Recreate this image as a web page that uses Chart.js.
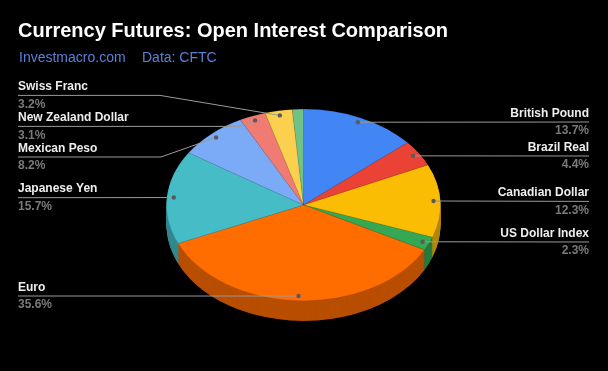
<!DOCTYPE html>
<html>
<head>
<meta charset="utf-8">
<script src="https://cdn.jsdelivr.net/npm/chart.js@4.4.1/dist/chart.umd.min.js"></script>
<style>
  html, body { margin: 0; padding: 0; background: #000; }
  #wrap { position: relative; width: 608px; height: 371px; }
  canvas { display: block; }
</style>
</head>
<body>
<div id="wrap"><canvas id="c" width="608" height="371"></canvas></div>
<script>
// ---- data ----
const categories = ["British Pound", "Brazil Real", "Canadian Dollar", "US Dollar Index", "Euro",
                    "Japanese Yen", "Mexican Peso", "New Zealand Dollar", "Swiss Franc", "Other"];
const shares = [13.7, 4.4, 12.3, 2.3, 35.6, 15.7, 8.2, 3.1, 3.2, 1.3];
const shareLabels = ["13.7%", "4.4%", "12.3%", "2.3%", "35.6%", "15.7%", "8.2%", "3.1%", "3.2%", ""];
const titleText = "Currency Futures: Open Interest Comparison";
const subtitleParts = ["Investmacro.com", "Data: CFTC"];

// ---- styles / layout ----
const sliceColors = ["#4285F4", "#EA4335", "#FBBC04", "#34A853", "#FF6D01",
                     "#46BDC6", "#7BAAF7", "#F07B72", "#FCD04F", "#71C287"];
const TILT = 0.70;     // vertical squash of the pie
const DEPTH = 20;      // thickness of the 3D pie
// label placement: side, y of name text centre, elbow x (null = straight)
const labelLayout = [
  {side: "R", y: 113.3, elbow: null},
  {side: "R", y: 147.3, elbow: null},
  {side: "R", y: 192.7, elbow: null},
  {side: "R", y: 233.3, elbow: null},
  {side: "L", y: 287.3, elbow: null},
  {side: "L", y: 189.0, elbow: null},
  {side: "L", y: 148.3, elbow: 161},
  {side: "L", y: 117.7, elbow: 240},
  {side: "L", y: 86.7,  elbow: 160},
  null
];

function shade(hex, f) {
  const n = parseInt(hex.slice(1), 16);
  const r = Math.round(((n >> 16) & 255) * f), g = Math.round(((n >> 8) & 255) * f), b = Math.round((n & 255) * f);
  return `rgb(${r},${g},${b})`;
}

function squash(ctx, arc) {
  ctx.translate(arc.x, arc.y);
  ctx.scale(1, TILT);
  ctx.translate(-arc.x, -arc.y);
}

const pie3d = {
  id: "pie3d",
  beforeDatasetsDraw(chart) {
    const ctx = chart.ctx;
    const arcs = chart.getDatasetMeta(0).data;
    if (!arcs.length) return;
    for (let d = DEPTH; d >= 1; d--) {
      ctx.save();
      ctx.translate(0, d);
      squash(ctx, arcs[0]);
      arcs.forEach((a, i) => {
        ctx.beginPath();
        ctx.moveTo(a.x, a.y);
        ctx.arc(a.x, a.y, a.outerRadius, a.startAngle, a.endAngle);
        ctx.closePath();
        ctx.fillStyle = shade(sliceColors[i], 0.72);
        ctx.fill();
      });
      ctx.restore();
    }
  },
  beforeDatasetDraw(chart) {
    const arcs = chart.getDatasetMeta(0).data;
    chart.ctx.save();
    squash(chart.ctx, arcs[0]);
  },
  afterDatasetDraw(chart) {
    chart.ctx.restore();
  },
  afterDraw(chart) {
    const ctx = chart.ctx;
    const arcs = chart.getDatasetMeta(0).data;
    // title + subtitle
    ctx.save();
    ctx.textBaseline = "middle";
    ctx.textAlign = "left";
    ctx.fillStyle = "#ffffff";
    ctx.font = "bold 20px 'Liberation Sans', Arial, sans-serif";
    ctx.fillText(titleText, 18, 31);
    ctx.fillStyle = "#5b80d8";
    ctx.font = "14px 'Liberation Sans', Arial, sans-serif";
    ctx.fillText(subtitleParts[0], 19, 58);
    ctx.fillText(subtitleParts[1], 142, 58);

    // labels
    arcs.forEach((a, i) => {
      const L = labelLayout[i];
      if (!L) return;
      const mid = (a.startAngle + a.endAngle) / 2;
      const r = a.outerRadius * 0.95;
      const px = a.x + r * Math.cos(mid);
      const py = a.y + r * Math.sin(mid) * TILT;
      const lineY = L.y + 8.7;
      ctx.strokeStyle = "#9a9a9a";
      ctx.lineWidth = 1;
      ctx.beginPath();
      if (L.side === "R") {
        ctx.moveTo(px, py);
        ctx.lineTo(589, lineY);
      } else {
        ctx.moveTo(18, lineY);
        if (L.elbow !== null) ctx.lineTo(L.elbow, lineY);
        ctx.lineTo(px, py);
      }
      ctx.stroke();
      ctx.fillStyle = "#5a5a5a";
      ctx.beginPath();
      ctx.arc(px, py, 2.2, 0, Math.PI * 2);
      ctx.fill();

      ctx.textAlign = L.side === "R" ? "right" : "left";
      const tx = L.side === "R" ? 589 : 18;
      ctx.font = "bold 12px 'Liberation Sans', Arial, sans-serif";
      ctx.fillStyle = "#eeeeee";
      ctx.fillText(categories[i], tx, L.y);
      ctx.fillStyle = "#7a7a7a";
      ctx.fillText(shareLabels[i], tx, L.y + 17.5);
    });
    ctx.restore();
  }
};

new Chart(document.getElementById("c"), {
  type: "pie",
  data: {
    labels: categories,
    datasets: [{
      data: shares,
      backgroundColor: sliceColors,
      borderColor: "rgba(0,0,0,0.12)",
      borderWidth: 1,
      clip: false
    }]
  },
  options: {
    responsive: false,
    animation: false,
    layout: { padding: { left: 166, right: 167, top: 67.5, bottom: 28.5 } },
    plugins: { legend: { display: false }, tooltip: { enabled: false }, title: { display: false } }
  },
  plugins: [pie3d]
});
</script>
</body>
</html>
